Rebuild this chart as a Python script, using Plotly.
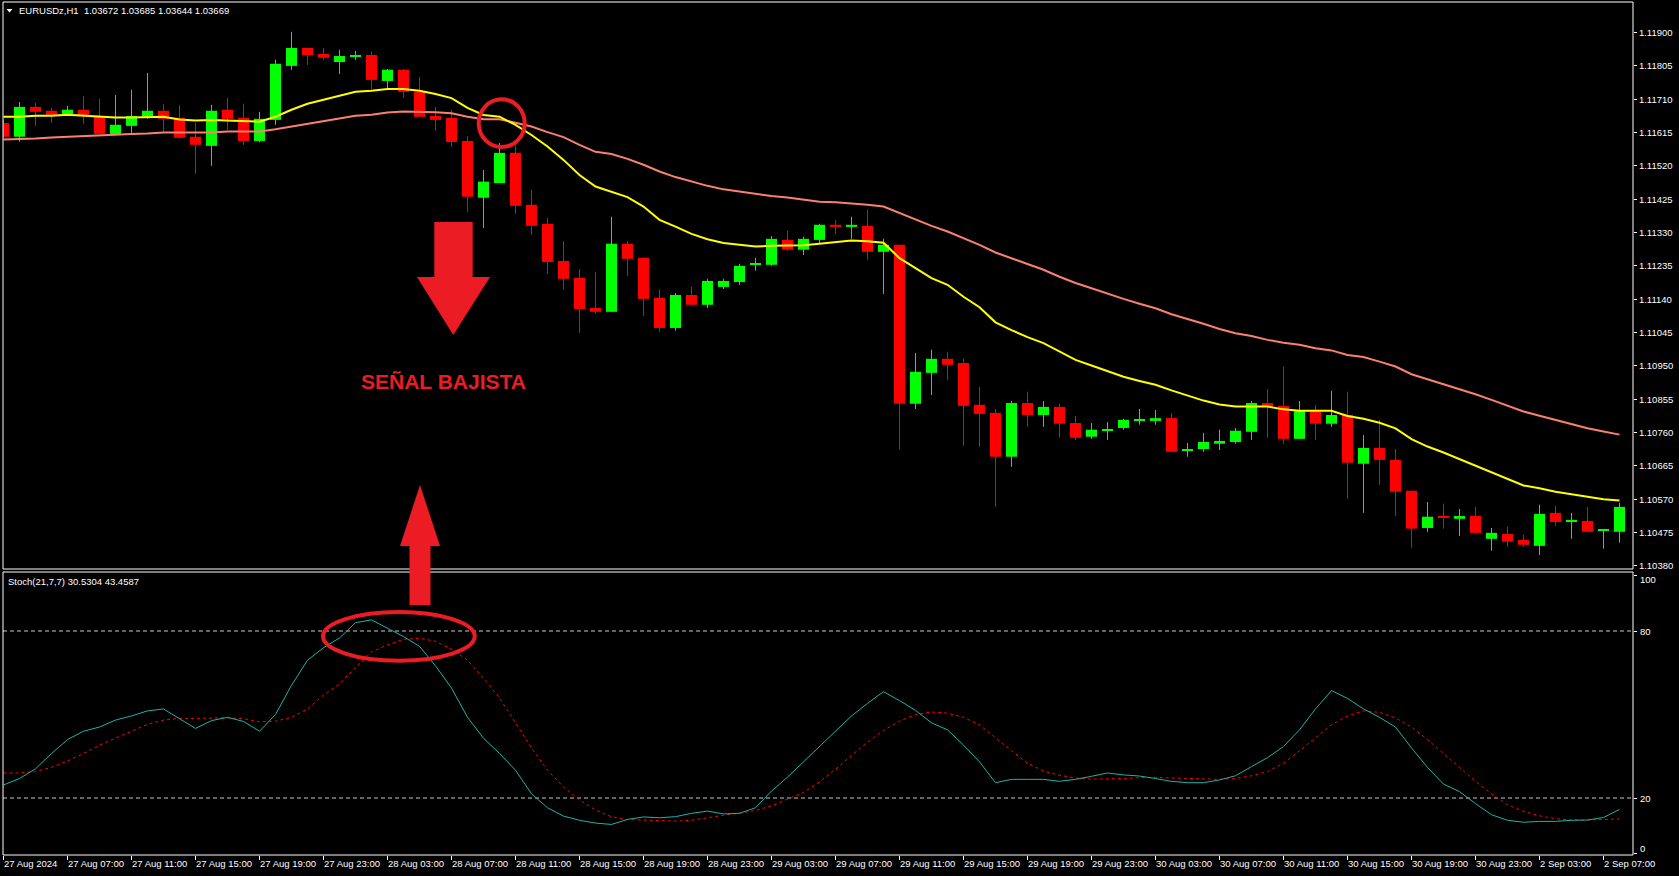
import plotly.graph_objects as go

# ---------------- DATA ----------------
opens = [1.11642, 1.11603, 1.11688, 1.11677, 1.11665, 1.11680, 1.11662, 1.11611, 1.11634, 1.11660,
         1.11677, 1.11657, 1.11603, 1.11577, 1.11680, 1.11657, 1.11591, 1.11651, 1.11805, 1.11856,
         1.11839, 1.11816, 1.11831, 1.11836, 1.11762, 1.11794, 1.11731, 1.11662, 1.11657, 1.11591,
         1.11429, 1.11471, 1.11557, 1.11409, 1.11355, 1.11249, 1.11201, 1.11115, 1.11104, 1.11298,
         1.11258, 1.11144, 1.11058, 1.11152, 1.11124, 1.11175, 1.11189, 1.11238, 1.11238, 1.11309,
         1.11281, 1.11309, 1.11352, 1.11346, 1.11349, 1.11275, 1.11295, 1.10842, 1.10930, 1.10970,
         1.10958, 1.10839, 1.10816, 1.10691, 1.10844, 1.10810, 1.10833, 1.10787, 1.10748, 1.10765,
         1.10773, 1.10793, 1.10793, 1.10801, 1.10708, 1.10713, 1.10728, 1.10733, 1.10762, 1.10844,
         1.10836, 1.10742, 1.10821, 1.10785, 1.10810, 1.10671, 1.10716, 1.10682, 1.10594, 1.10488,
         1.10520, 1.10514, 1.10522, 1.10457, 1.10471, 1.10454, 1.10437, 1.10531, 1.10505, 1.10508,
         1.10480, 1.10477]

highs = [1.11651, 1.11702, 1.11699, 1.11685, 1.11691, 1.11719, 1.11711, 1.11722, 1.11737, 1.11785,
         1.11697, 1.11694, 1.11642, 1.11694, 1.11714, 1.11697, 1.11674, 1.11822, 1.11902, 1.11856,
         1.11856, 1.11851, 1.11848, 1.11845, 1.11796, 1.11796, 1.11774, 1.11688, 1.11680, 1.11605,
         1.11508, 1.11585, 1.11580, 1.11452, 1.11372, 1.11306, 1.11226, 1.11218, 1.11375, 1.11306,
         1.11258, 1.11167, 1.11158, 1.11175, 1.11198, 1.11198, 1.11241, 1.11258, 1.11320, 1.11335,
         1.11318, 1.11355, 1.11366, 1.11375, 1.11395, 1.11312, 1.11295, 1.10987, 1.10996, 1.10990,
         1.10970, 1.10890, 1.10827, 1.10850, 1.10876, 1.10850, 1.10842, 1.10807, 1.10787, 1.10790,
         1.10799, 1.10827, 1.10824, 1.10816, 1.10730, 1.10759, 1.10768, 1.10773, 1.10850, 1.10884,
         1.10947, 1.10850, 1.10839, 1.10879, 1.10876, 1.10753, 1.10796, 1.10713, 1.10594, 1.10562,
         1.10557, 1.10542, 1.10548, 1.10488, 1.10491, 1.10468, 1.10554, 1.10551, 1.10531, 1.10548,
         1.10480, 1.10560]

lows = [1.11600, 1.11589, 1.11634, 1.11642, 1.11662, 1.11640, 1.11611, 1.11611, 1.11614, 1.11654,
        1.11617, 1.11600, 1.11497, 1.11520, 1.11623, 1.11580, 1.11588, 1.11637, 1.11794, 1.11808,
        1.11822, 1.11782, 1.11822, 1.11739, 1.11737, 1.11714, 1.11660, 1.11620, 1.11574, 1.11389,
        1.11343, 1.11471, 1.11383, 1.11323, 1.11212, 1.11167, 1.11044, 1.11098, 1.11104, 1.11206,
        1.11092, 1.11047, 1.11050, 1.11124, 1.11115, 1.11169, 1.11181, 1.11221, 1.11235, 1.11278,
        1.11266, 1.11298, 1.11326, 1.11312, 1.11252, 1.11155, 1.10711, 1.10827, 1.10867, 1.10910,
        1.10722, 1.10719, 1.10548, 1.10662, 1.10776, 1.10776, 1.10745, 1.10739, 1.10742, 1.10739,
        1.10768, 1.10782, 1.10782, 1.10705, 1.10691, 1.10705, 1.10710, 1.10728, 1.10739, 1.10745,
        1.10728, 1.10742, 1.10739, 1.10776, 1.10571, 1.10531, 1.10611, 1.10522, 1.10431, 1.10477,
        1.10486, 1.10465, 1.10471, 1.10423, 1.10434, 1.10434, 1.10411, 1.10494, 1.10457, 1.10477,
        1.10429, 1.10446]

closes = [1.11603, 1.11688, 1.11674, 1.11665, 1.11680, 1.11665, 1.11611, 1.11637, 1.11662, 1.11677,
          1.11654, 1.11600, 1.11580, 1.11677, 1.11654, 1.11591, 1.11654, 1.11811, 1.11856, 1.11836,
          1.11828, 1.11833, 1.11836, 1.11765, 1.11794, 1.11731, 1.11660, 1.11651, 1.11588, 1.11432,
          1.11475, 1.11557, 1.11406, 1.11349, 1.11246, 1.11198, 1.11112, 1.11104, 1.11298, 1.11255,
          1.11141, 1.11058, 1.11152, 1.11124, 1.11192, 1.11192, 1.11235, 1.11241, 1.11312, 1.11281,
          1.11312, 1.11352, 1.11346, 1.11352, 1.11275, 1.11295, 1.10842, 1.10933, 1.10970, 1.10953,
          1.10836, 1.10813, 1.10691, 1.10844, 1.10810, 1.10833, 1.10785, 1.10745, 1.10768, 1.10770,
          1.10796, 1.10796, 1.10801, 1.10705, 1.10713, 1.10733, 1.10736, 1.10765, 1.10844, 1.10833,
          1.10742, 1.10821, 1.10785, 1.10810, 1.10674, 1.10716, 1.10682, 1.10591, 1.10486, 1.10520,
          1.10517, 1.10522, 1.10474, 1.10474, 1.10449, 1.10440, 1.10528, 1.10505, 1.10511, 1.10477,
          1.10480, 1.10548]

ma_fast = [1.11660, 1.11660, 1.11663, 1.11663, 1.11666, 1.11663, 1.11660, 1.11658, 1.11658, 1.11660,
           1.11660, 1.11652, 1.11649, 1.11651, 1.11649, 1.11646, 1.11646, 1.11660, 1.11680, 1.11697,
           1.11708, 1.11719, 1.11731, 1.11734, 1.11739, 1.11739, 1.11734, 1.11725, 1.11713, 1.11685,
           1.11665, 1.11660, 1.11637, 1.11608, 1.11575, 1.11537, 1.11494, 1.11461, 1.11447, 1.11431,
           1.11404, 1.11366, 1.11347, 1.11326, 1.11311, 1.11300, 1.11295, 1.11290, 1.11292, 1.11293,
           1.11294, 1.11298, 1.11302, 1.11307, 1.11305, 1.11301, 1.11257, 1.11228, 1.11200, 1.11181,
           1.11147, 1.11117, 1.11074, 1.11052, 1.11032, 1.11015, 1.10991, 1.10967, 1.10951, 1.10936,
           1.10919, 1.10907, 1.10896, 1.10880, 1.10865, 1.10851, 1.10840, 1.10834, 1.10834, 1.10834,
           1.10826, 1.10822, 1.10822, 1.10822, 1.10807, 1.10799, 1.10788, 1.10772, 1.10741, 1.10720,
           1.10703, 1.10684, 1.10665, 1.10647, 1.10627, 1.10609, 1.10601, 1.10591, 1.10584, 1.10577,
           1.10570, 1.10566]

ma_slow = [1.11595, 1.11596, 1.11598, 1.11601, 1.11603, 1.11606, 1.11609, 1.11609, 1.11611, 1.11612,
           1.11615, 1.11615, 1.11615, 1.11615, 1.11618, 1.11618, 1.11618, 1.11624, 1.11632, 1.11640,
           1.11649, 1.11655, 1.11663, 1.11666, 1.11672, 1.11675, 1.11675, 1.11673, 1.11670, 1.11660,
           1.11653, 1.11653, 1.11643, 1.11632, 1.11616, 1.11602, 1.11580, 1.11560, 1.11554, 1.11540,
           1.11523, 1.11504, 1.11488, 1.11475, 1.11463, 1.11453, 1.11446, 1.11439, 1.11434, 1.11430,
           1.11425, 1.11418, 1.11416, 1.11413, 1.11409, 1.11404, 1.11385, 1.11366, 1.11349, 1.11333,
           1.11314, 1.11295, 1.11273, 1.11257, 1.11241, 1.11224, 1.11204, 1.11186, 1.11171, 1.11155,
           1.11141, 1.11127, 1.11114, 1.11097, 1.11084, 1.11070, 1.11055, 1.11043, 1.11035, 1.11024,
           1.11016, 1.11010, 1.11000, 1.10994, 1.10981, 1.10975, 1.10962, 1.10948, 1.10926, 1.10912,
           1.10898, 1.10882, 1.10869, 1.10853, 1.10837, 1.10820, 1.10808, 1.10796, 1.10785, 1.10772,
           1.10763, 1.10754]

stoch_k = [24.7, 27.0, 30.5, 36.0, 41.0, 44.0, 45.5, 48.0, 49.5, 51.3,
           52.0, 48.5, 45.0, 47.8, 49.0, 47.5, 44.0, 50.0, 60.5, 69.5,
           74.0, 77.5, 83.0, 84.0, 81.0, 78.0, 74.5, 67.5, 59.5, 49.0,
           41.5, 36.0, 30.0, 21.5, 16.5, 13.5, 12.0, 11.0, 10.5, 12.3,
           13.2, 12.9, 13.3, 14.5, 15.3, 14.3, 14.5, 16.5, 22.5, 27.5,
           33.0, 38.5, 44.0, 49.5, 54.0, 58.2, 55.0, 51.5, 47.0, 44.5,
           39.0, 33.0, 25.5, 26.7, 26.7, 26.7, 26.0, 26.7, 27.8, 29.0,
           28.3, 27.9, 27.0, 26.0, 25.5, 25.5, 26.5, 28.0, 31.3, 34.5,
           38.5, 44.5, 52.0, 58.6, 55.8, 52.0, 49.0, 45.5, 38.0, 31.0,
           25.0, 22.3, 18.0, 14.0, 12.0, 11.3, 11.6, 11.6, 12.0, 12.1,
           13.0, 15.9]

stoch_d = [29.0, 29.0, 29.5, 31.0, 33.3, 36.0, 39.0, 41.5, 44.0, 46.5,
           48.0, 48.6, 48.6, 48.8, 48.8, 48.5, 47.4, 47.6, 49.0, 52.0,
           57.0, 61.0, 67.0, 72.5, 75.0, 77.0, 77.4, 76.3, 73.5, 69.5,
           63.0, 56.0, 47.0, 38.0, 30.0, 24.0, 19.3, 15.7, 13.3, 12.2,
           12.1, 11.8, 11.7, 12.0, 13.0, 13.8, 14.6, 15.5, 17.2, 19.5,
           22.0, 25.8, 30.3, 35.3, 40.0, 44.3, 47.6, 50.0, 50.9, 50.5,
           49.0, 46.3, 41.5, 37.0, 32.5, 29.7, 28.2, 27.2, 26.8, 26.8,
           27.0, 27.3, 27.4, 27.2, 27.0, 26.8, 26.7, 27.0, 28.0, 29.5,
           32.5, 37.0, 41.8, 46.3, 49.5, 51.3, 50.8, 48.8, 45.5, 41.0,
           36.0, 31.0, 26.0, 21.5, 17.6, 15.2, 13.6, 12.6, 12.1, 12.1,
           12.2, 12.5]

time_labels = ["27 Aug 2024", "27 Aug 07:00", "27 Aug 11:00", "27 Aug 15:00", "27 Aug 19:00",
               "27 Aug 23:00", "28 Aug 03:00", "28 Aug 07:00", "28 Aug 11:00", "28 Aug 15:00",
               "28 Aug 19:00", "28 Aug 23:00", "29 Aug 03:00", "29 Aug 07:00", "29 Aug 11:00",
               "29 Aug 15:00", "29 Aug 19:00", "29 Aug 23:00", "30 Aug 03:00", "30 Aug 07:00",
               "30 Aug 11:00", "30 Aug 15:00", "30 Aug 19:00", "30 Aug 23:00", "2 Sep 03:00",
               "2 Sep 07:00"]
time_label_bars = [0, 4, 8, 12, 16, 20, 24, 28, 32, 36, 40, 44, 48, 52, 56, 60, 64, 68, 72, 76,
                   80, 84, 88, 92, 96, 100]

price_ticks = [1.10380, 1.10475, 1.10570, 1.10665, 1.10760, 1.10855, 1.10950, 1.11045, 1.11140,
               1.11235, 1.11330, 1.11425, 1.11520, 1.11615, 1.11710, 1.11805, 1.11900]
stoch_ticks = [0, 20, 80, 100]
stoch_levels = [20, 80]

title_text = "EURUSDz,H1  1.03672 1.03685 1.03644 1.03669"
stoch_text = "Stoch(21,7,7) 30.5304 43.4587"
signal_text = "SEÑAL BAJISTA"

# ---------------- LAYOUT GEOMETRY ----------------
W, H = 1679, 876
ML, MR, MT, MB = 3, 46, 2, 21
PW = W - ML - MR
PH = H - MT - MB


def px(x):
    return (x - ML) / PW


def py(y):
    return (H - MB - y) / PH


UP = "#00FF00"
DN = "#FF0000"
MARK = "#EC1C24"
FONT = "Liberation Sans, Arial, sans-serif"

n = len(opens)
xs = list(range(n))
is_up = [c >= o for o, c in zip(opens, closes)]

fig = go.Figure()

# wicks
for flag, col in ((True, UP), (False, DN)):
    wx, wy = [], []
    for i in xs:
        if is_up[i] == flag:
            wx += [i, i, None]
            wy += [lows[i], highs[i], None]
    fig.add_trace(go.Scatter(x=wx, y=wy, mode="lines", line=dict(color=col, width=1),
                             hoverinfo="skip", showlegend=False, xaxis="x", yaxis="y"))

# bodies
min_h = 0.00003
base = [min(o, c) for o, c in zip(opens, closes)]
height = [max(abs(c - o), min_h) for o, c in zip(opens, closes)]
fig.add_trace(go.Bar(x=xs, y=height, base=base, width=0.6875,
                     marker=dict(color=[UP if u else DN for u in is_up], line=dict(width=0)),
                     showlegend=False, xaxis="x", yaxis="y"))

# moving averages
fig.add_trace(go.Scatter(x=xs, y=ma_slow, mode="lines", line=dict(color="#FA8072", width=2),
                         showlegend=False, xaxis="x", yaxis="y"))
fig.add_trace(go.Scatter(x=xs, y=ma_fast, mode="lines", line=dict(color="#FFFF00", width=2),
                         showlegend=False, xaxis="x", yaxis="y"))

# stochastic
fig.add_trace(go.Scatter(x=xs, y=stoch_d, mode="lines",
                         line=dict(color="#FF0000", width=1, dash="3px,3px"),
                         showlegend=False, xaxis="x2", yaxis="y2"))
fig.add_trace(go.Scatter(x=xs, y=stoch_k, mode="lines", line=dict(color="#20B2AA", width=1),
                         showlegend=False, xaxis="x2", yaxis="y2"))

main_dom = [py(569), 1.0]
stoch_dom = [0.0, py(572)]
xr = [-0.03125, -0.03125 + PW / 16.0]

axis_font = dict(family=FONT, size=9.5, color="#FFFFFF")

shapes = []
# panel frames
shapes.append(dict(type="rect", xref="paper", yref="paper", x0=0, x1=1, y0=main_dom[0], y1=1,
                   line=dict(color="#FFFFFF", width=1), layer="above"))
shapes.append(dict(type="rect", xref="paper", yref="paper", x0=0, x1=1, y0=0, y1=stoch_dom[1],
                   line=dict(color="#FFFFFF", width=1), layer="above"))
for lv in stoch_levels:
    shapes.append(dict(type="line", xref="paper", yref="y2", x0=0, x1=1, y0=lv, y1=lv,
                       line=dict(color="#C8C8C8", width=1, dash="4px,3px"), layer="below"))

# hand-drawn marks
down_arrow = [(434.3, 222), (472.7, 222), (472.7, 277), (490, 277), (453.3, 335), (417, 277), (434.3, 277)]
up_arrow = [(409.5, 605), (430.5, 605), (430.5, 546), (440, 546), (420, 485), (400, 546), (409.5, 546)]
for pts in (down_arrow, up_arrow):
    path = "M " + " L ".join(f"{px(a):.5f},{py(b):.5f}" for a, b in pts) + " Z"
    shapes.append(dict(type="path", xref="paper", yref="paper", path=path,
                       fillcolor=MARK, line=dict(color=MARK, width=0), layer="above"))
shapes.append(dict(type="circle", xref="paper", yref="paper", x0=px(478.7), x1=px(524.7),
                   y0=py(147), y1=py(99.3), line=dict(color=MARK, width=4), layer="above"))
shapes.append(dict(type="circle", xref="paper", yref="paper", x0=px(323), x1=px(474.7),
                   y0=py(660.7), y1=py(612), line=dict(color=MARK, width=4), layer="above"))
# title triangle
tri = [(6.5, 9.0), (12.5, 9.0), (9.5, 12.5)]
shapes.append(dict(type="path", xref="paper", yref="paper",
                   path="M " + " L ".join(f"{px(a):.5f},{py(b):.5f}" for a, b in tri) + " Z",
                   fillcolor="#FFFFFF", line=dict(width=0), layer="above"))

annotations = [
    dict(text=title_text, xref="paper", yref="paper", x=px(17), y=py(10.5), xanchor="left",
         yanchor="middle", showarrow=False, font=dict(family=FONT, size=9.5, color="#FFFFFF")),
    dict(text=stoch_text, xref="paper", yref="paper", x=px(6), y=py(581.5), xanchor="left",
         yanchor="middle", showarrow=False, font=dict(family=FONT, size=9.5, color="#FFFFFF")),
    dict(text="<b>" + signal_text + "</b>", xref="paper", yref="paper", x=px(443.5), y=py(381.5),
         xanchor="center", yanchor="middle", showarrow=False,
         font=dict(family="Liberation Sans, Arial, sans-serif", size=21, color=MARK)),
]
# stochastic scale labels: the end labels are nudged inside the panel like the terminal does
stoch_label_px = {0: 848, 20: 798, 80: 631, 100: 579}
for v in stoch_ticks:
    annotations.append(dict(text=str(v), xref="paper", yref="paper", x=px(1638), y=py(stoch_label_px[v]),
                            xanchor="left", yanchor="middle", showarrow=False, font=axis_font))

fig.update_layout(
    width=W, height=H,
    margin=dict(l=ML, r=MR, t=MT, b=MB, pad=0),
    paper_bgcolor="#000000", plot_bgcolor="#000000",
    barmode="overlay", showlegend=False, hovermode=False,
    xaxis=dict(domain=[0, 1], range=xr, anchor="y", showticklabels=False, ticks="",
               showgrid=False, zeroline=False, showline=False),
    xaxis2=dict(domain=[0, 1], range=xr, anchor="y2", matches="x",
                tickmode="array", tickvals=time_label_bars, ticktext=time_labels,
                ticks="outside", ticklen=4, tickcolor="#FFFFFF", tickwidth=1, tickangle=0,
                ticklabelposition="outside right", tickfont=axis_font,
                showgrid=False, zeroline=False, showline=False),
    yaxis=dict(domain=main_dom, range=[1.10371, 1.11987], anchor="x", side="right",
               tickmode="array", tickvals=price_ticks, ticktext=[f"{v:.5f}" for v in price_ticks],
               ticks="outside", ticklen=3, tickcolor="#FFFFFF", tickfont=axis_font,
               showgrid=False, zeroline=False, showline=False),
    yaxis2=dict(domain=stoch_dom, range=[-0.47, 101.2], anchor="x2", side="right",
                tickmode="array", tickvals=stoch_ticks, showticklabels=False,
                ticks="outside", ticklen=3, tickcolor="#FFFFFF",
                showgrid=False, zeroline=False, showline=False),
    shapes=shapes,
    annotations=annotations,
)

fig.write_html("out.html", post_script="document.body.style.margin='0';",
               config={"displayModeBar": False})
